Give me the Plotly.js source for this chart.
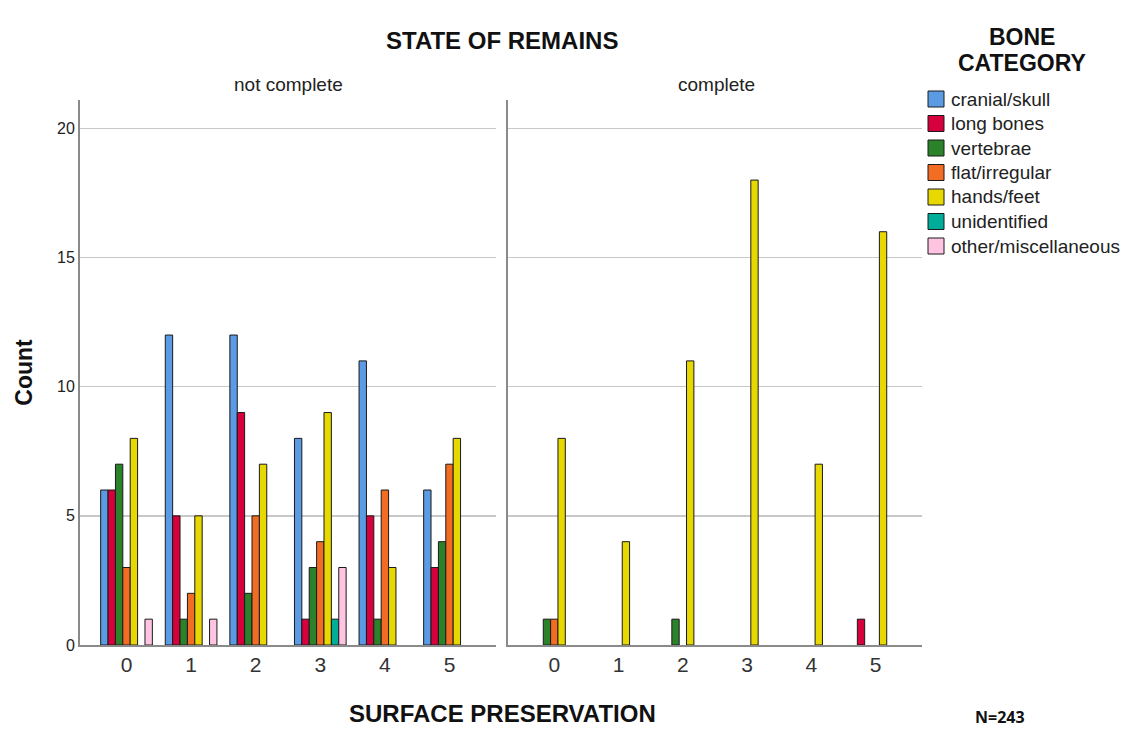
<!DOCTYPE html>
<html>
<head>
<meta charset="utf-8">
<script src="https://cdn.plot.ly/plotly-3.0.1.min.js"></script>
<style>html,body{margin:0;padding:0;background:#fff;}#chart{width:1126px;height:729px;}</style>
</head>
<body>
<div id="chart"></div>
<script>
const surface = ['0', '1', '2', '3', '4', '5'];
const categories = ['cranial/skull', 'long bones', 'vertebrae', 'flat/irregular', 'hands/feet', 'unidentified', 'other/miscellaneous'];
const colors = ['#5a9be3', '#d6003c', '#2b822b', '#f36c24', '#e6d800', '#00ad9a', '#ffc4e2'];

// counts per category across surface preservation 0..5
const notComplete = {
  'cranial/skull':       [6, 12, 12, 8, 11, 6],
  'long bones':          [6, 5, 9, 1, 5, 3],
  'vertebrae':           [7, 1, 2, 3, 1, 4],
  'flat/irregular':      [3, 2, 5, 4, 6, 7],
  'hands/feet':          [8, 5, 7, 9, 3, 8],
  'unidentified':        [0, 0, 0, 1, 0, 0],
  'other/miscellaneous': [1, 1, 0, 3, 0, 0]
};
const complete = {
  'cranial/skull':       [0, 0, 0, 0, 0, 0],
  'long bones':          [0, 0, 0, 0, 0, 1],
  'vertebrae':           [1, 0, 1, 0, 0, 0],
  'flat/irregular':      [1, 0, 0, 0, 0, 0],
  'hands/feet':          [8, 4, 11, 18, 7, 16],
  'unidentified':        [0, 0, 0, 0, 0, 0],
  'other/miscellaneous': [0, 0, 0, 0, 0, 0]
};

const traces = [];
function addTraces(data, xa, ya) {
  categories.forEach((c, i) => {
    const vals = data[c];
    traces.push({
      type: 'bar', name: c, x: surface, y: vals, xaxis: xa, yaxis: ya,
      legendgroup: c, showlegend: false,
      marker: {color: colors[i], line: {color: '#1a1a1a', width: vals.map(v => v === 0 ? 0 : 1)}},
      hoverinfo: 'x+y+name'
    });
  });
}
addTraces(notComplete, 'x', 'y');
addTraces(complete, 'x2', 'y2');

const W = 1126, H = 729, ml = 80, mr = 204, mt = 100, mb = 84;
const pw = W - ml - mr, ph = H - mt - mb;
const px = v => (v - ml) / pw;          // pixel x -> paper x
const py = v => 1 - (v - mt) / ph;      // pixel y -> paper y
const FONT = 'Arial, Liberation Sans, sans-serif';

const xcommon = {
  type: 'category', range: [-0.72, 5.72], showgrid: false, zeroline: false,
  showline: true, linecolor: '#8a8a8a', linewidth: 2, ticks: '',
  tickfont: {family: FONT, size: 21, color: '#333'},
  fixedrange: true
};
const ycommon = {
  range: [0, 21.1], showgrid: true, gridcolor: '#c8c8c8', gridwidth: 1.5,
  zeroline: false, showline: true, linecolor: '#8a8a8a', linewidth: 2, ticks: '',
  tickvals: [0, 5, 10, 15, 20], fixedrange: true
};

// manual legend (swatch + label), built from categories/colors
const legendShapes = [];
const legendAnn = [];
const LX = 928, LY0 = 99, LDY = 24.5, SW = 16;
categories.forEach((c, i) => {
  const cy = LY0 + i * LDY;
  legendShapes.push({
    type: 'rect', xref: 'paper', yref: 'paper',
    x0: px(LX), x1: px(LX + SW), y0: py(cy - SW / 2), y1: py(cy + SW / 2),
    fillcolor: colors[i], line: {color: '#1a1a1a', width: 1}
  });
  legendAnn.push({
    text: c, xref: 'paper', yref: 'paper', x: px(LX + SW + 5), y: py(cy),
    xanchor: 'left', yanchor: 'middle', showarrow: false,
    font: {family: FONT, size: 19, color: '#222'}
  });
});

const layout = {
  width: W, height: H,
  margin: {l: ml, r: mr, t: mt, b: mb, autoexpand: false},
  paper_bgcolor: '#fff', plot_bgcolor: '#fff',
  barmode: 'group', bargap: 0.2, bargroupgap: 0,
  font: {family: FONT, color: '#222'},
  xaxis: Object.assign({}, xcommon, {domain: [0, px(496)], anchor: 'y'}),
  xaxis2: Object.assign({}, xcommon, {domain: [px(508), 1], anchor: 'y2'}),
  yaxis: Object.assign({}, ycommon, {anchor: 'x', tickfont: {size: 16, color: '#222'},
    title: {text: 'Count', font: {size: 23, color: '#111', weight: 'bold'}, standoff: 18}}),
  yaxis2: Object.assign({}, ycommon, {anchor: 'x2', matches: 'y', showticklabels: false}),
  showlegend: false,
  shapes: legendShapes,
  annotations: [
    {text: '<b>STATE OF REMAINS</b>', xref: 'paper', yref: 'paper', x: px(502), y: py(40), xanchor: 'center', yanchor: 'middle', showarrow: false, font: {size: 24, color: '#111'}},
    {text: 'not complete', xref: 'paper', yref: 'paper', x: px(288), y: py(84), xanchor: 'center', yanchor: 'middle', showarrow: false, font: {size: 19, color: '#222'}},
    {text: 'complete', xref: 'paper', yref: 'paper', x: px(716), y: py(84), xanchor: 'center', yanchor: 'middle', showarrow: false, font: {size: 19, color: '#222'}},
    {text: '<b>SURFACE PRESERVATION</b>', xref: 'paper', yref: 'paper', x: px(502), y: py(713), xanchor: 'center', yanchor: 'middle', showarrow: false, font: {size: 24, color: '#111'}},
    {text: '<b>BONE</b>', xref: 'paper', yref: 'paper', x: px(1022), y: py(51), xanchor: 'center', yanchor: 'bottom', showarrow: false, borderpad: 0, font: {size: 23, color: '#111'}},
    {text: '<b>CATEGORY</b>', xref: 'paper', yref: 'paper', x: px(1022), y: py(49), xanchor: 'center', yanchor: 'top', showarrow: false, borderpad: 0, font: {size: 23, color: '#111'}},
    {text: '<b>N=243</b>', xref: 'paper', yref: 'paper', x: px(1000), y: py(717), xanchor: 'center', yanchor: 'middle', showarrow: false, font: {family: 'Open Sans, sans-serif', size: 16, color: '#111'}}
  ].concat(legendAnn)
};

Plotly.newPlot('chart', traces, layout, {displayModeBar: false, staticPlot: true});
</script>
</body>
</html>
